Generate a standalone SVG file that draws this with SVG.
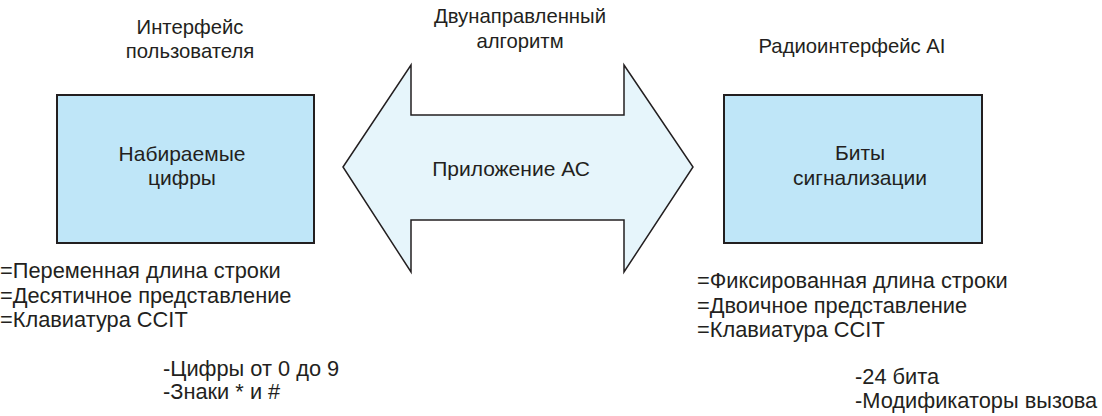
<svg xmlns="http://www.w3.org/2000/svg" width="1102" height="416" viewBox="0 0 1102 416">
<style>
text{font-family:"Liberation Sans",Arial,sans-serif;font-size:21px;fill:#231f20}
.c{text-anchor:middle}
.t{font-size:20.3px}
.l{font-size:21.8px}
.box{fill:#bfe6f8;stroke:#231f20;stroke-width:2}
.arrow{fill:#e6f5fb;stroke:#231f20;stroke-width:1.5;stroke-linejoin:miter}
</style>
<rect width="1102" height="416" fill="#fff"/>
<g id="labels">
<text class="c t" x="190" y="34">Интерфейс</text>
<text class="c t" x="190" y="58">пользователя</text>
<text class="c t" x="520" y="23">Двунаправленный</text>
<text class="c t" x="520" y="48">алгоритм</text>
<text class="c t" x="852" y="53">Радиоинтерфейс AI</text>
</g>
<g id="connectors">
<g id="app-arrow">
<polygon class="arrow" points="343,167 411,65 411,115 624,115 624,65 693,167 624,272 624,220 411,220 411,272"/>
<text class="c" x="511" y="176">Приложение АС</text>
</g>
</g>
<g id="node-dial">
<rect class="box" x="57" y="95" width="257" height="148"/>
<text class="c" x="182" y="161">Набираемые</text>
<text class="c" x="182" y="185">цифры</text>
</g>
<g id="node-bits">
<rect class="box" x="724" y="95" width="258" height="148"/>
<text class="c" x="860" y="160">Биты</text>
<text class="c" x="860" y="185">сигнализации</text>
</g>
<g id="left-list" class="l">
<text class="l" x="0" y="278">=Переменная длина строки</text>
<text class="l" x="0" y="303">=Десятичное представление</text>
<text class="l" x="0" y="327">=Клавиатура CCIT</text>
<text class="l" x="163" y="376">-Цифры от 0 до 9</text>
<text class="l" x="163" y="399">-Знаки * и #</text>
</g>
<g id="right-list">
<text class="l" x="697" y="288">=Фиксированная длина строки</text>
<text class="l" x="697" y="313">=Двоичное представление</text>
<text class="l" x="697" y="337">=Клавиатура CCIT</text>
<text class="l" x="855" y="384">-24 бита</text>
<text class="l" x="855" y="408">-Модификаторы вызова</text>
</g>
</svg>
